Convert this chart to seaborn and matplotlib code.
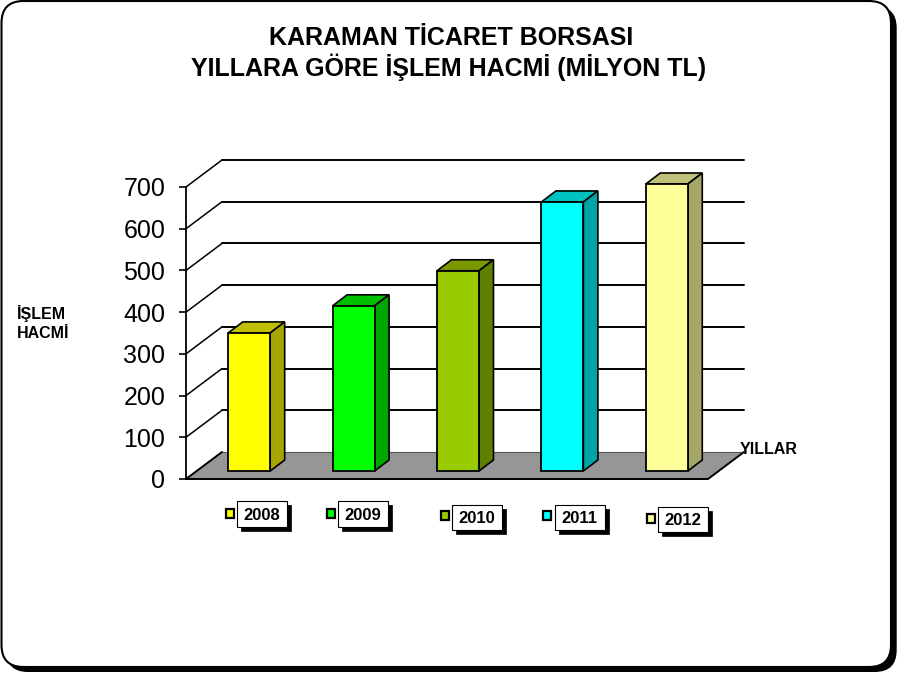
import matplotlib
matplotlib.use("Agg")
import matplotlib.pyplot as plt
import pandas as pd
import seaborn as sns
from matplotlib.patches import Polygon, Rectangle, FancyBboxPatch
from matplotlib.transforms import Affine2D

# data
years = ['2008', '2009', '2010', '2011', '2012']
volumes = [331, 396, 480, 645, 688]
y_ticks = [0, 100, 200, 300, 400, 500, 600, 700]

front_colors = ['#FFFF00', '#00FF00', '#99CC00', '#00FFFF', '#FFFF99']
top_colors = ['#C0C000', '#00C000', '#7A9900', '#00C0C0', '#C0C078']
side_colors = ['#A6A600', '#00A600', '#5F7F00', '#00A6A6', '#A6A666']

W, H = 897, 673
WALL_DX, WALL_DY = 36, 27    # depth of the chart box, px
BAR_DX, BAR_DY = 11, 8       # bars stand this far in from the front edge
SIDE_DX, SIDE_DY = 14.5, 11  # depth of one bar
FLOOR_GREY = '#969696'

# legend layout: box left, box top, swatch left, swatch top (px from top left)
legend_pos = [(237, 501, 225.5, 508.5), (338, 501, 326.5, 508.5),
              (452, 504.5, 440.5, 511), (554.5, 504.5, 542.5, 511),
              (658, 506.5, 646.5, 513.5)]

sns.set_theme(style='white')
plt.rcParams['font.family'] = ['Liberation Sans', 'DejaVu Sans']

fig = plt.figure(figsize=(W / 100, H / 100), dpi=100, facecolor='white')

# overlay in picture pixels for the frame and the text
bg = fig.add_axes([0, 0, 1, 1], zorder=0)
bg.set_xlim(0, W)
bg.set_ylim(H, 0)
bg.axis('off')

bg.add_patch(FancyBboxPatch((6, 6), W - 6.3, H - 7, boxstyle='round,pad=0,rounding_size=22',
                            fc='black', ec='black', lw=0))
bg.add_patch(FancyBboxPatch((1.5, 1), 889.5, 666, boxstyle='round,pad=0,rounding_size=22',
                            fc='white', ec='black', lw=1.5))

bg.text(451.5, 38, 'KARAMAN TİCARET BORSASI', ha='center', va='center', fontsize=18, fontweight='bold', color='black')
bg.text(449, 67, 'YILLARA GÖRE İŞLEM HACMİ (MİLYON TL)', ha='center', va='center', fontsize=18, fontweight='bold', color='black')
bg.text(17, 313, 'İŞLEM', ha='left', va='center', fontsize=11.5, fontweight='bold', color='black')
bg.text(17, 333, 'HACMİ', ha='left', va='center', fontsize=11.5, fontweight='bold', color='black')
bg.text(740, 449.5, 'YILLAR', ha='left', va='center', fontsize=11.5, fontweight='bold', color='black', zorder=5)

# main axes = front plane of the box
ax = fig.add_axes([186 / W, (H - 479) / H, 522 / W, 292 / H], zorder=1)
ax.patch.set_alpha(0)

df = pd.DataFrame({'year': years, 'volume': volumes})
sns.barplot(data=df, x='year', y='volume', hue='year', palette=front_colors, width=0.402,
            legend=False, ax=ax, edgecolor='black', linewidth=1.3, saturation=1, zorder=3)

ax.set_xlim(-0.5, 4.5)
ax.set_ylim(0, 700)
ax.set_yticks(y_ticks)
ax.set_xticks([])
ax.set_xlabel('')
ax.set_ylabel('')
ax.tick_params(axis='y', left=True, length=5, width=1.2, color='black', pad=10, labelsize=18, labelcolor='black')
for name in ['top', 'right', 'bottom']:
    ax.spines[name].set_visible(False)
ax.spines['left'].set_color('black')
ax.spines['left'].set_linewidth(1.3)
ax.spines['left'].set_zorder(4)

back_tf = ax.transData + Affine2D().translate(WALL_DX, WALL_DY)
bar_tf = ax.transData + Affine2D().translate(BAR_DX, BAR_DY)

# wall lines
for t in y_ticks[1:]:
    x0, y0 = ax.transData.transform((-0.5, t))
    xb, yb = back_tf.transform((-0.5, t))
    xe, ye = back_tf.transform((4.5, t))
    ax.plot([x0, xb], [y0, yb], color='black', lw=1.1, transform=None, zorder=1, clip_on=False)
    ax.plot([xb, xe], [yb, ye], color='black', lw=1.4, transform=None, zorder=1, clip_on=False)

# floor
fl = [ax.transData.transform((-0.5, 0)), back_tf.transform((-0.5, 0)),
      back_tf.transform((4.5, 0)), ax.transData.transform((4.5, 0))]
ax.add_patch(Polygon(fl, closed=True, fc=FLOOR_GREY, ec='none', transform=None, zorder=1.2, clip_on=False))
ax.plot([fl[1][0], fl[2][0]], [fl[1][1], fl[2][1]], color='#555555', lw=0.8, transform=None, zorder=1.3, clip_on=False)
ax.plot([fl[1][0], fl[0][0], fl[3][0], fl[2][0]], [fl[1][1], fl[0][1], fl[3][1], fl[2][1]],
        color='black', lw=1.4, transform=None, zorder=1.4, clip_on=False, solid_joinstyle='miter')

# bars: push seaborn's patches back and add top and side faces
for p, top_c, side_c in zip(ax.patches[:len(years)], top_colors, side_colors):
    x, w, h = p.get_x(), p.get_width(), p.get_height()
    p.set_transform(bar_tf)
    p.set_clip_on(False)
    (xl, yb), (xr, yt) = bar_tf.transform((x, 0)), bar_tf.transform((x + w, h))
    top_face = [(xl, yt), (xr, yt), (xr + SIDE_DX, yt + SIDE_DY), (xl + SIDE_DX, yt + SIDE_DY)]
    side_face = [(xr, yb), (xr + SIDE_DX, yb + SIDE_DY), (xr + SIDE_DX, yt + SIDE_DY), (xr, yt)]
    ax.add_patch(Polygon(top_face, closed=True, fc=top_c, ec='black', lw=1.2, transform=None, zorder=2.9, clip_on=False))
    ax.add_patch(Polygon(side_face, closed=True, fc=side_c, ec='black', lw=1.2, transform=None, zorder=2.9, clip_on=False))

# legend
for year, color, (bx, by, sx, sy) in zip(years, front_colors, legend_pos):
    bg.add_patch(Rectangle((bx + 4, by + 4), 50, 25.5, fc='black', ec='black', lw=0.5))
    bg.add_patch(Rectangle((bx, by), 50, 25.5, fc='white', ec='black', lw=0.8))
    bg.add_patch(Rectangle((sx, sy), 8.5, 9, fc=color, ec='black', lw=1.6))
    bg.text(bx + 25, by + 14, year, ha='center', va='center', fontsize=12, fontweight='bold', color='black')

fig.savefig('out.png', dpi=100)
